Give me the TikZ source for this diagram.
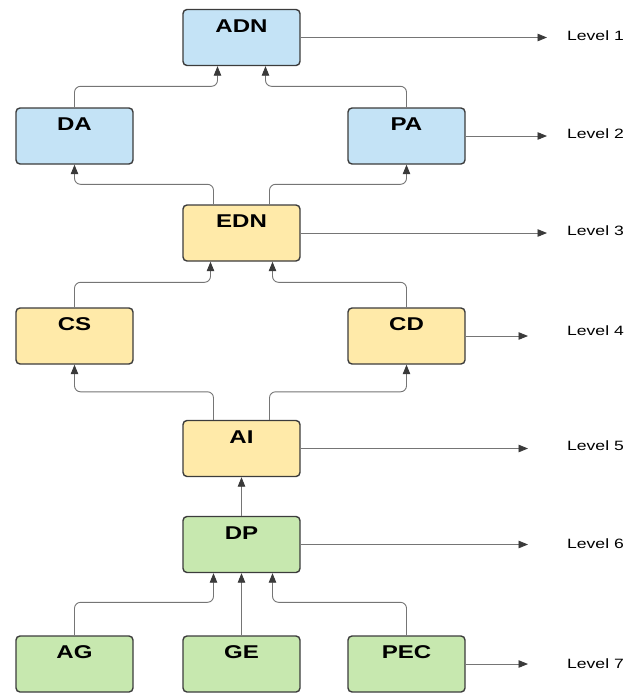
\documentclass[tikz,border=0pt]{standalone}
\usepackage{fontspec}
\setmainfont{Liberation Sans}[FakeStretch=1.3]
\usetikzlibrary{arrows.meta}

\definecolor{bluebox}{HTML}{C4E3F6}
\definecolor{yellowbox}{HTML}{FFEAA9}
\definecolor{greenbox}{HTML}{C7E8AF}
\definecolor{boxline}{HTML}{3C3C3C}
\definecolor{linkgray}{HTML}{757575}
\definecolor{tipgray}{HTML}{3A3A3A}

\begin{document}
\begin{tikzpicture}[x=1pt,y=-1pt,
  box/.style={draw=boxline,line width=1.4pt,rounded corners=4pt,
  minimum width=117pt,minimum height=56pt,text depth=23pt,
  font=\fontsize{18.5}{20}\selectfont\bfseries},
  blue node/.style={box,fill=bluebox},
  yellow node/.style={box,fill=yellowbox},
  green node/.style={box,fill=greenbox},
  link/.style={draw=linkgray,line width=0.9pt,rounded corners=6pt,
  -{Triangle[length=9.5pt,width=7.5pt,color=tipgray]}},
  level/.style={anchor=west,inner sep=0pt,
  font=\fontsize{13.5}{15}\selectfont}]

  \useasboundingbox (0,0) rectangle (628,693);

  \node[blue node] (ADN) at (241.5,37.5) {ADN};
  \node[blue node] (DA) at (74.5,136) {DA};
  \node[blue node] (PA) at (406.5,136) {PA};
  \node[yellow node] (EDN) at (241.5,233) {EDN};
  \node[yellow node] (CS) at (74.5,336) {CS};
  \node[yellow node] (CD) at (406.5,336) {CD};
  \node[yellow node] (AI) at (241.5,448.5) {AI};
  \node[green node] (DP) at (241.5,544.5) {DP};
  \node[green node] (AG) at (74.5,664) {AG};
  \node[green node] (GE) at (241.5,664) {GE};
  \node[green node] (PEC) at (406.5,664) {PEC};

  \node[level] (L1) at (567,36) {Level 1};
  \node[level] (L2) at (567,134) {Level 2};
  \node[level] (L3) at (567,231) {Level 3};
  \node[level] (L4) at (567,331) {Level 4};
  \node[level] (L5) at (567,446) {Level 5};
  \node[level] (L6) at (567,544) {Level 6};
  \node[level] (L7) at (567,664) {Level 7};

  % upward links between the boxes
  \draw[link] (DA.north) -- ++(0,-21) -| ([xshift=-24pt]ADN.south);
  \draw[link] (PA.north) -- ++(0,-21) -| ([xshift=24pt]ADN.south);
  \draw[link] ([xshift=-28pt]EDN.north) -- ++(0,-20) -| (DA.south);
  \draw[link] ([xshift=28pt]EDN.north) -- ++(0,-20) -| (PA.south);
  \draw[link] (CS.north) -- ++(0,-25) -| ([xshift=-31pt]EDN.south);
  \draw[link] (CD.north) -- ++(0,-25) -| ([xshift=31pt]EDN.south);
  \draw[link] ([xshift=-28pt]AI.north) -- ++(0,-28) -| (CS.south);
  \draw[link] ([xshift=28pt]AI.north) -- ++(0,-28) -| (CD.south);
  \draw[link] (DP.north) -- (AI.south);
  \draw[link] (AG.north) -- ++(0,-33) -| ([xshift=-28pt]DP.south);
  \draw[link] (GE.north) -- (DP.south);
  \draw[link] (PEC.north) -- ++(0,-33) -| ([xshift=31pt]DP.south);

  % level pointers
  \draw[link,shorten >=20pt] (ADN.east) -- (ADN.east -| L1.west);
  \draw[link,shorten >=20pt] (PA.east) -- (PA.east -| L2.west);
  \draw[link,shorten >=20pt] (EDN.east) -- (EDN.east -| L3.west);
  \draw[link,shorten >=39pt] (CD.east) -- (CD.east -| L4.west);
  \draw[link,shorten >=39pt] (AI.east) -- (AI.east -| L5.west);
  \draw[link,shorten >=39pt] (DP.east) -- (DP.east -| L6.west);
  \draw[link,shorten >=39pt] (PEC.east) -- (PEC.east -| L7.west);

\end{tikzpicture}
\end{document}
